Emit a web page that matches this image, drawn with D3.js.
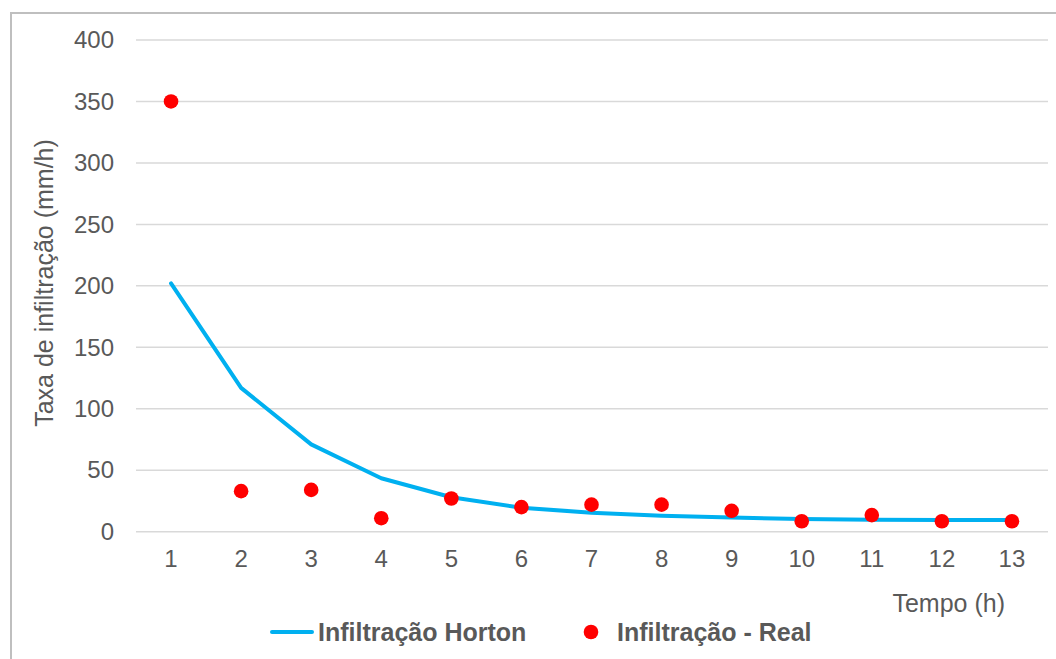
<!DOCTYPE html>
<html>
<head>
<meta charset="utf-8">
<script src="https://cdn.jsdelivr.net/npm/d3@7/dist/d3.min.js"></script>
<style>
  html, body { margin: 0; padding: 0; background: #fff; }
  svg { display: block; font-family: "Liberation Sans", Arial, sans-serif; }
</style>
</head>
<body>
<svg id="chart" width="1056" height="659"></svg>
<script>
// Tempo (h)
const hours = [1, 2, 3, 4, 5, 6, 7, 8, 9, 10, 11, 12, 13];
// Horton model infiltration rate (mm/h)
const hortonRate = [202, 117, 71, 43.5, 28, 19.5, 15.5, 13, 11.5, 10.3, 9.7, 9.5, 9.5];
// Measured infiltration rate (mm/h)
const realRate = [350, 33, 34, 11, 27, 20, 22, 22, 17, 8.5, 13.5, 8.5, 8.5];
const yTicks = [0, 50, 100, 150, 200, 250, 300, 350, 400];

const svg = d3.select("#chart");
const textColor = "#595959";
const fontFamily = "Liberation Sans, Arial, sans-serif";

// outer frame
svg.append("rect")
  .attr("x", 11).attr("y", 13)
  .attr("width", 1100).attr("height", 700)
  .attr("fill", "#fff")
  .attr("stroke", "#bfbfbf").attr("stroke-width", 2);

const x = d3.scaleBand().domain(hours).range([136, 1047]);
const y = d3.scaleLinear().domain([0, 400]).range([531.7, 40]);
const cx = d => x(d) + x.bandwidth() / 2;

// horizontal gridlines
svg.append("g").selectAll("line").data(yTicks).join("line")
  .attr("x1", 136).attr("x2", 1048)
  .attr("y1", d => y(d)).attr("y2", d => y(d))
  .attr("stroke", "#d9d9d9").attr("stroke-width", 1.5);

// y axis labels
const yAxis = svg.append("g").attr("transform", "translate(114,0)")
  .call(d3.axisLeft(y).tickValues(yTicks).tickSize(0).tickPadding(0));
yAxis.select(".domain").remove();
yAxis.selectAll("text")
  .attr("fill", textColor).style("font-size", "24px")
  .style("font-family", fontFamily);

// x axis labels
const xAxis = svg.append("g").attr("transform", "translate(0,550)")
  .call(d3.axisBottom(x).tickSize(0).tickPadding(0));
xAxis.select(".domain").remove();
xAxis.selectAll("text")
  .attr("fill", textColor).style("font-size", "24px")
  .style("font-family", fontFamily);

// axis titles
svg.append("text")
  .attr("transform", "translate(53,283) rotate(-90)")
  .attr("text-anchor", "middle")
  .attr("fill", textColor).style("font-size", "25px")
  .text("Taxa de infiltração (mm/h)");
svg.append("text")
  .attr("x", 1005).attr("y", 612)
  .attr("text-anchor", "end")
  .attr("fill", textColor).style("font-size", "25px")
  .text("Tempo (h)");

// Horton curve
const line = d3.line().x((d, i) => cx(hours[i])).y(d => y(d));
svg.append("path")
  .datum(hortonRate)
  .attr("d", line)
  .attr("fill", "none")
  .attr("stroke", "#00b0f0").attr("stroke-width", 4)
  .attr("stroke-linejoin", "round").attr("stroke-linecap", "round");

// measured points
svg.append("g").selectAll("circle").data(realRate).join("circle")
  .attr("cx", (d, i) => cx(hours[i]))
  .attr("cy", d => y(d))
  .attr("r", 7.3)
  .attr("fill", "#ff0000");

// legend
const lg = svg.append("g");
lg.append("line")
  .attr("x1", 272).attr("x2", 312).attr("y1", 632).attr("y2", 632)
  .attr("stroke", "#00b0f0").attr("stroke-width", 4).attr("stroke-linecap", "round");
lg.append("text")
  .attr("x", 318).attr("y", 641)
  .attr("fill", textColor).style("font-size", "25px").style("font-weight", "bold")
  .text("Infiltração Horton");
lg.append("circle")
  .attr("cx", 591).attr("cy", 632).attr("r", 7.3)
  .attr("fill", "#ff0000");
lg.append("text")
  .attr("x", 617).attr("y", 641)
  .attr("fill", textColor).style("font-size", "25px").style("font-weight", "bold")
  .text("Infiltração - Real");
</script>
</body>
</html>
